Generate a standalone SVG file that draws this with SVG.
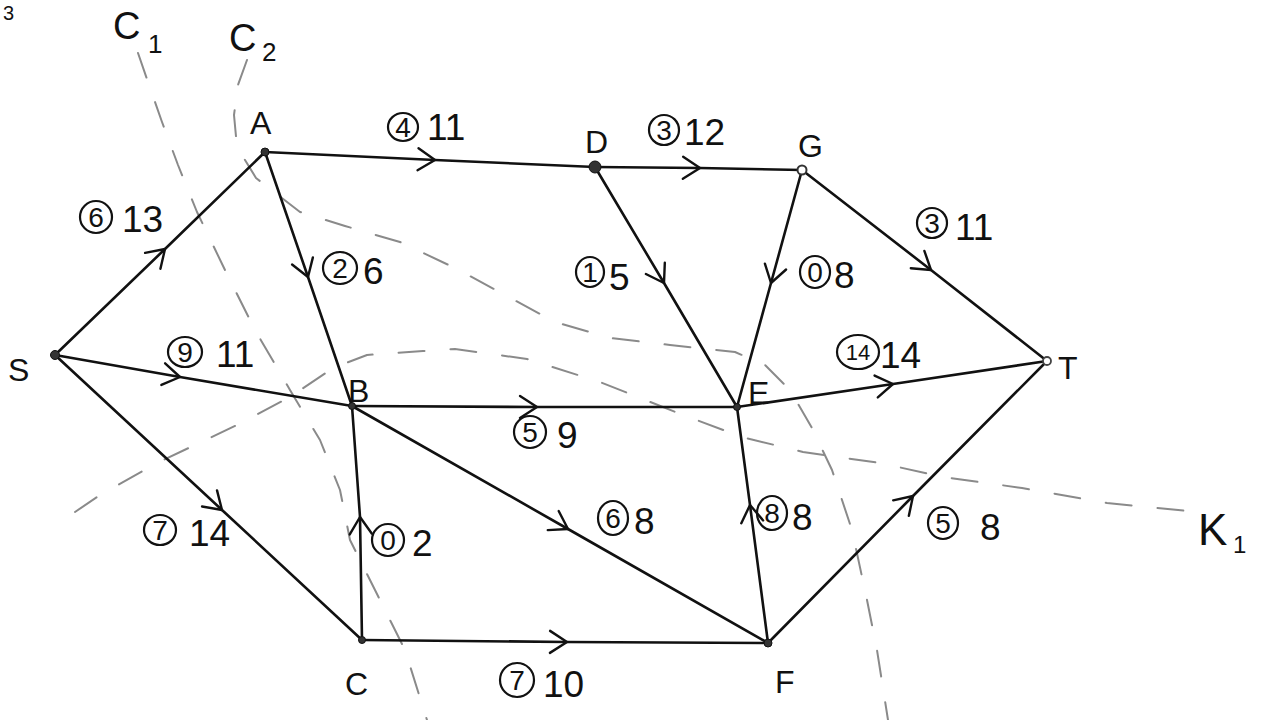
<svg xmlns="http://www.w3.org/2000/svg" width="1280" height="720" viewBox="0 0 1280 720">
<defs>
<marker id="chev" markerUnits="userSpaceOnUse" markerWidth="44" markerHeight="44" viewBox="-22 -22 44 44" refX="0" refY="0" orient="auto">
<path d="M-17,-11 L0,0 L-17,11" fill="none" stroke="#111" stroke-width="2.4" stroke-linecap="round" stroke-linejoin="round"/>
</marker>
<style>
.e{fill:none;stroke:#111;stroke-width:2.6;stroke-linecap:round;marker-mid:url(#chev)}
.cut{fill:none;stroke:#8a8a8a;stroke-width:2;stroke-dasharray:26 26;stroke-linecap:round;stroke-linejoin:round}
.t{font-family:"Liberation Sans","DejaVu Sans",sans-serif;fill:#111}
.n{font-size:32px}
.cap{font-size:37px}
.fl{font-size:28px;text-anchor:middle}
.fl2{font-size:22px;text-anchor:middle}
.ring{fill:none;stroke:#111;stroke-width:2.2}
.dot{fill:#333;stroke:#111;stroke-width:1}
</style>
</defs>
<rect width="1280" height="720" fill="#fff"/>

<g id="cuts">
<path class="cut" d="M138,53 L148,82 L162,122 L178,165 L197,212 L225,270 L255,330 L290,390 L320,440 L340,490 L350,540 L375,590 L405,650 L427,720"/>
<path class="cut" d="M247,60 L238,85 L234,115 L237,147 L256,178 L300,212 L345,226 L400,242 L455,268 L505,295 L555,322 L610,338 L670,345 L735,352 L765,365 L790,390 L812,428 L832,470 L852,530 L867,600 L877,650 L888,720"/>
<path class="cut" d="M75,512 L100,495 L157,463 L237,425 L290,397 L333,368 L367,355 L423,351 L455,349 L527,359 L600,382 L683,415 L742,437 L803,452 L880,463 L943,477 L1022,488 L1107,503 L1198,512"/>
<text class="t" x="113" y="39" font-size="38">C</text>
<text class="t" x="148" y="53" font-size="26">1</text>
<text class="t" x="229" y="51" font-size="38">C</text>
<text class="t" x="262" y="61" font-size="26">2</text>
<text class="t" x="1198" y="545" font-size="44">K</text>
<text class="t" x="1233" y="553" font-size="24">1</text>
<text class="t" x="3" y="20" font-size="20">3</text>
</g>

<g id="connectors">
<g id="edge-S-A"><path class="e" d="M55,355 L165,249 L265,152"/><ellipse class="ring" cx="96" cy="217" rx="16" ry="16"/><text class="t fl" x="96" y="227">6</text><text class="t cap" x="122" y="232">13</text></g>
<g id="edge-S-B"><path class="e" d="M55,355 L180,377 L352,406"/><ellipse class="ring" cx="185" cy="352" rx="17" ry="15"/><text class="t fl" x="185" y="362">9</text><text class="t cap" x="216" y="367">11</text></g>
<g id="edge-S-C"><path class="e" d="M55,355 L222,510 L362,640"/><ellipse class="ring" cx="160" cy="530" rx="16" ry="15"/><text class="t fl" x="160" y="540">7</text><text class="t cap" x="189" y="546">14</text></g>
<g id="edge-A-D"><path class="e" d="M265,152 L435,160 L595,167"/><ellipse class="ring" cx="403" cy="127" rx="15" ry="14"/><text class="t fl" x="403" y="137">4</text><text class="t cap" x="427" y="140">11</text></g>
<g id="edge-D-G"><path class="e" d="M595,167 L700,168 L802,170"/><ellipse class="ring" cx="664" cy="130" rx="15" ry="15"/><text class="t fl" x="664" y="140">3</text><text class="t cap" x="684" y="145">12</text></g>
<g id="edge-A-B"><path class="e" d="M265,152 L308,277 L352,406"/><ellipse class="ring" cx="340" cy="268" rx="17" ry="16"/><text class="t fl" x="340" y="278">2</text><text class="t cap" x="363" y="284">6</text></g>
<g id="edge-D-E"><path class="e" d="M595,167 L664,283 L737,407"/><ellipse class="ring" cx="590" cy="272" rx="14" ry="15"/><text class="t fl" x="590" y="282">1</text><text class="t cap" x="609" y="290">5</text></g>
<g id="edge-G-E"><path class="e" d="M802,170 L771,283 L737,407"/><ellipse class="ring" cx="815" cy="272" rx="15" ry="16"/><text class="t fl" x="815" y="282">0</text><text class="t cap" x="834" y="288">8</text></g>
<g id="edge-G-T"><path class="e" d="M802,170 L931,270 L1047,361"/><ellipse class="ring" cx="932" cy="223" rx="15" ry="15"/><text class="t fl" x="932" y="233">3</text><text class="t cap" x="955" y="240">11</text></g>
<g id="edge-B-E"><path class="e" d="M352,406 L537,407 L737,407"/><ellipse class="ring" cx="530" cy="432" rx="16" ry="16"/><text class="t fl" x="530" y="442">5</text><text class="t cap" x="557" y="448">9</text></g>
<g id="edge-E-T"><path class="e" d="M737,407 L893,384 L1047,361"/><ellipse class="ring" cx="858" cy="352" rx="21" ry="17"/><text class="t fl2" x="858" y="360">14</text><text class="t cap" x="880" y="368">14</text></g>
<g id="edge-B-F"><path class="e" d="M352,406 L568,529 L768,643"/><ellipse class="ring" cx="613" cy="518" rx="15" ry="17"/><text class="t fl" x="613" y="528">6</text><text class="t cap" x="634" y="534">8</text></g>
<g id="edge-C-B"><path class="e" d="M362,640 L360,517 L352,406"/><ellipse class="ring" cx="388" cy="540" rx="16" ry="16"/><text class="t fl" x="388" y="550">0</text><text class="t cap" x="412" y="556">2</text></g>
<g id="edge-C-F"><path class="e" d="M362,640 L567,642 L768,643"/><ellipse class="ring" cx="517" cy="680" rx="17" ry="17"/><text class="t fl" x="517" y="690">7</text><text class="t cap" x="543" y="697">10</text></g>
<g id="edge-F-E"><path class="e" d="M768,643 L750,505 L737,407"/><ellipse class="ring" cx="772" cy="513" rx="15" ry="17"/><text class="t fl" x="772" y="523">8</text><text class="t cap" x="792" y="530">8</text></g>
<g id="edge-F-T"><path class="e" d="M768,643 L913,496 L1047,361"/><ellipse class="ring" cx="943" cy="523" rx="15" ry="16"/><text class="t fl" x="943" y="533">5</text><text class="t cap" x="980" y="540">8</text></g>
</g>

<g id="node-S"><circle class="dot" cx="55" cy="355" r="4.5"/><text class="t n" x="8" y="381">S</text></g>
<g id="node-A"><circle class="dot" cx="265" cy="152" r="4"/><text class="t n" x="250" y="134">A</text></g>
<g id="node-D"><circle class="dot" cx="595" cy="167" r="6"/><text class="t n" x="585" y="153">D</text></g>
<g id="node-G"><circle cx="802" cy="170" r="4.5" fill="#fff" stroke="#333" stroke-width="2"/><text class="t n" x="798" y="157">G</text></g>
<g id="node-B"><circle class="dot" cx="352" cy="406" r="3.5"/><text class="t n" x="348" y="402">B</text></g>
<g id="node-E"><circle class="dot" cx="737" cy="407" r="3.5"/><text class="t n" x="748" y="404">E</text></g>
<g id="node-T"><circle cx="1047" cy="361" r="4" fill="#fff" stroke="#444" stroke-width="1.8"/><text class="t n" x="1058" y="379">T</text></g>
<g id="node-C"><circle class="dot" cx="362" cy="640" r="3.5"/><text class="t n" x="345" y="695">C</text></g>
<g id="node-F"><circle class="dot" cx="768" cy="643" r="4"/><text class="t n" x="775" y="693">F</text></g>
</svg>
